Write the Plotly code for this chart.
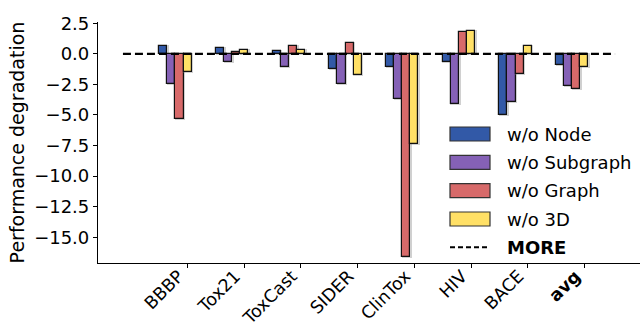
import plotly.graph_objects as go

categories = ["BBBP", "Tox21", "ToxCast", "SIDER", "ClinTox", "HIV", "BACE", "avg"]
tick_labels = ["BBBP", "Tox21", "ToxCast", "SIDER", "ClinTox", "HIV", "BACE", "<b>avg</b>"]
wo_node = [0.60, 0.49, 0.27, -1.25, -1.06, -0.65, -5.04, -0.95]
wo_subgraph = [-2.48, -0.65, -1.06, -2.48, -3.70, -4.10, -3.92, -2.63]
wo_graph = [-5.34, 0.16, 0.65, 0.90, -16.60, 1.76, -1.69, -2.88]
wo_3d = [-1.50, 0.35, 0.35, -1.77, -7.35, 1.88, 0.65, -1.06]
series_names = ["w/o Node", "w/o Subgraph", "w/o Graph", "w/o 3D"]
series_values = [wo_node, wo_subgraph, wo_graph, wo_3d]
colors = ["#3259A7", "#8561B6", "#D76A6A", "#FFE066"]
ref_x = [-1.14, 7.54]
ref_y = [0, 0]

W = 0.143
FONT = "DejaVu Sans"
FS = 18

fig = go.Figure()
idx = list(range(len(categories)))
for j, (name, vals, col) in enumerate(zip(series_names, series_values, colors)):
    xs = [i + (j - 3) * W for i in idx]
    # soft shadow
    fig.add_trace(go.Bar(x=[x + 0.012 for x in xs], y=vals, width=W,
                         marker=dict(color="rgba(0,0,0,0)", line=dict(color="rgba(120,120,120,0.35)", width=2)),
                         showlegend=False, hoverinfo="skip"))
    fig.add_trace(go.Bar(x=xs, y=vals, width=W, name=name,
                         marker=dict(color=col, line=dict(color="#111111", width=1.2)),
                         showlegend=False))

fig.add_trace(go.Scatter(x=ref_x, y=ref_y, mode="lines", name="MORE",
                         line=dict(color="black", width=2.2, dash="8px,4px"), showlegend=False))

# plot area pixel geometry
L, R, T, B = 98, 640, 22, 263
def px(xp):
    return (xp - L) / (R - L)
def py(yp):
    return (B - yp) / (B - T)

rows = [134, 162.3, 190.7, 219, 247.3]
for k, (name, col) in enumerate(zip(series_names, colors)):
    yc = rows[k]
    fig.add_shape(type="rect", xref="paper", yref="paper",
                  x0=px(450), x1=px(490), y0=py(yc + 7), y1=py(yc - 7),
                  fillcolor=col, line=dict(color="#333333", width=1.2))
    fig.add_annotation(xref="paper", yref="paper", x=px(505), y=py(yc), text=name,
                       showarrow=False, xanchor="left", yanchor="middle",
                       font=dict(family=FONT, size=FS, color="black"))
fig.add_shape(type="line", xref="paper", yref="paper", x0=px(450), x1=px(490),
              y0=py(rows[4]), y1=py(rows[4]), line=dict(color="black", width=2, dash="5px,3px"))
fig.add_annotation(xref="paper", yref="paper", x=px(505), y=py(rows[4]), text="<b>MORE</b>",
                   showarrow=False, xanchor="left", yanchor="middle",
                   font=dict(family=FONT, size=FS, color="black"))

fig.update_layout(
    width=640, height=329, barmode="overlay",
    margin=dict(l=L, r=640 - R, t=T, b=329 - B),
    plot_bgcolor="white", paper_bgcolor="white",
    font=dict(family=FONT, size=FS, color="black"),
    showlegend=False,
    bargap=0,
)
fig.update_xaxes(range=[-1.58, 7.98], tickmode="array", tickvals=idx, ticktext=tick_labels,
                 tickangle=-45, showline=True, linecolor="black", linewidth=1.2,
                 ticks="outside", ticklen=4, tickcolor="black", showgrid=False, zeroline=False,
                 tickfont=dict(family=FONT, size=17.5), automargin=False,
                 ticklabelstandoff=-9, ticklabelshift=-9)
fig.update_yaxes(range=[-17.1, 2.6], tickmode="array",
                 tickvals=[2.5, 0, -2.5, -5, -7.5, -10, -12.5, -15],
                 ticktext=["2.5", "0.0", "\u22122.5", "\u22125.0", "\u22127.5", "\u221210.0", "\u221212.5", "\u221215.0"],
                 showline=True, linecolor="black", linewidth=1.2, ticks="outside", ticklen=4,
                 tickcolor="black", showgrid=False, zeroline=False, automargin=False,
                 title=dict(text="Performance degradation", font=dict(family=FONT, size=19), standoff=4),
                 tickfont=dict(family=FONT, size=FS))

fig.write_html("out.html")
